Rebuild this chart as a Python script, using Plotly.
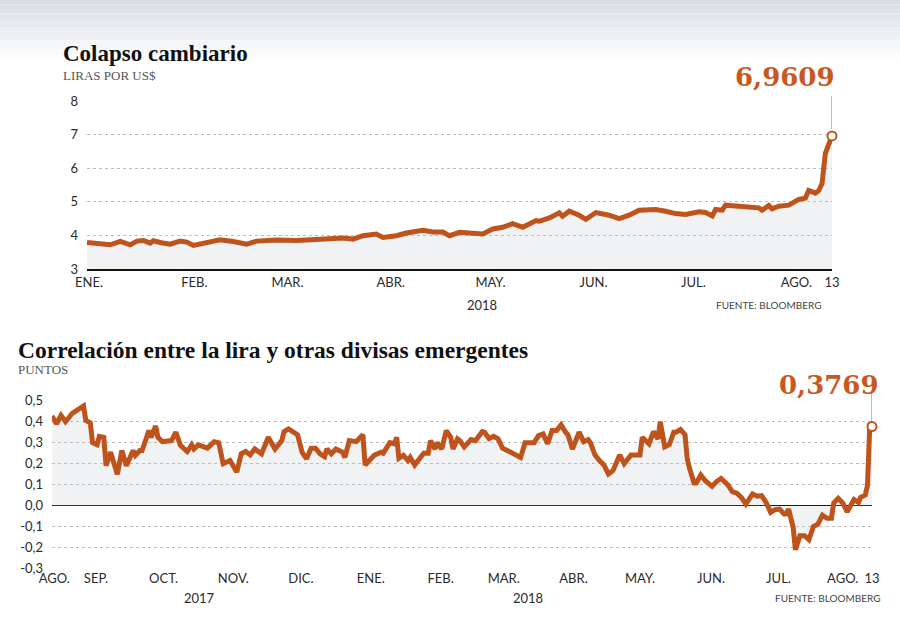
import pandas as pd
import plotly.graph_objects as go

W, H = 900, 623

# ---------------- data: lira per US$ (2018) ----------------
LIRA_START = "2018-01-01"
lira_days = [0, 3, 5, 7, 10, 13, 15, 17, 19, 20, 22, 25, 28, 30, 32, 36, 40, 44, 48, 51,
             57, 63, 68, 73, 77, 80, 83, 87, 89, 93, 96, 101, 104, 107, 109, 112, 115, 119,
             122, 125, 128, 131, 135, 136, 139, 142, 143, 145, 148, 150, 153, 156, 157, 160,
             163, 166, 168, 171, 174, 177, 180, 184, 186, 188, 189, 191, 192, 196, 199, 202,
             203, 205, 206, 208, 211, 214, 216, 217, 219, 220, 221, 222, 224]
lira_values = [3.79, 3.76, 3.71, 3.72, 3.82, 3.72, 3.83, 3.85, 3.77, 3.84, 3.79, 3.74, 3.83,
               3.80, 3.70, 3.79, 3.87, 3.82, 3.74, 3.83, 3.86, 3.85, 3.89, 3.90, 3.92, 3.89,
               3.99, 4.04, 3.94, 3.99, 4.07, 4.15, 4.10, 4.10, 3.99, 4.09, 4.07, 4.04, 4.19,
               4.24, 4.35, 4.24, 4.44, 4.42, 4.52, 4.67, 4.57, 4.72, 4.60, 4.48, 4.68, 4.63,
               4.60, 4.50, 4.60, 4.75, 4.75, 4.77, 4.72, 4.65, 4.62, 4.70, 4.68, 4.58, 4.77,
               4.75, 4.90, 4.87, 4.82, 4.82, 4.75, 4.89, 4.79, 4.87, 4.90, 5.07, 5.11, 5.34,
               5.26, 5.33, 5.54, 6.44, 6.9609]
lira_month_ticks = ["2018-01-01", "2018-02-01", "2018-03-01", "2018-04-01", "2018-05-01",
                    "2018-06-01", "2018-07-01", "2018-08-01", "2018-08-13"]
lira_month_labels = ["ENE.", "FEB.", "MAR.", "ABR.", "MAY.", "JUN.", "JUL.", "AGO.", "13"]
lira_yticks = [3, 4, 5, 6, 7, 8]
lira_last_label = "6,9609"

# ---------------- data: correlation (Aug 2017 - Aug 2018) ----------------
CORR_START = "2017-08-14"
corr_days = [0, 2, 4, 6, 9, 11, 14, 15, 17, 18, 20, 21, 23, 24, 26, 29, 31, 33, 34, 36, 37,
             39, 40, 43, 44, 46, 47, 49, 53, 55, 57, 60, 62, 63, 65, 69, 72, 74, 76, 79, 82,
             84, 86, 88, 90, 93, 96, 99, 102, 103, 105, 108, 109, 111, 113, 115, 117, 119,
             121, 122, 124, 126, 129, 130, 132, 135, 138, 139, 142, 143, 146, 147, 150, 152,
             153, 154, 156, 158, 159, 161, 165, 167, 168, 170, 171, 173, 175, 177, 178, 180,
             181, 183, 186, 188, 191, 192, 194, 196, 198, 200, 203, 206, 208, 210, 214, 216,
             218, 220, 222, 224, 226, 228, 229, 231, 234, 236, 238, 239, 241, 243, 245, 247,
             249, 252, 254, 257, 261, 262, 265, 267, 269, 270, 272, 274, 276, 277, 279, 281,
             282, 283, 285, 286, 288, 290, 293, 295, 297, 300, 302, 304, 306, 308, 311, 313,
             315, 317, 319, 321, 323, 325, 326, 327, 329, 330, 332, 334, 336, 338, 340, 342,
             344, 346, 347, 349, 351, 353, 355, 356, 358, 359, 361, 362, 363, 364]
corr_values = [0.427, 0.39, 0.43, 0.40, 0.44, 0.454, 0.475, 0.406, 0.395, 0.30, 0.29, 0.33,
               0.326, 0.19, 0.255, 0.15, 0.263, 0.19, 0.215, 0.263, 0.24, 0.263, 0.263, 0.358,
               0.326, 0.38, 0.326, 0.305, 0.31, 0.35, 0.287, 0.258, 0.29, 0.27, 0.29, 0.274,
               0.305, 0.30, 0.20, 0.215, 0.16, 0.247, 0.258, 0.242, 0.27, 0.247, 0.326, 0.27,
               0.31, 0.353, 0.366, 0.347, 0.338, 0.255, 0.223, 0.274, 0.274, 0.247, 0.234,
               0.27, 0.247, 0.27, 0.255, 0.23, 0.31, 0.305, 0.338, 0.194, 0.23, 0.24, 0.255,
               0.25, 0.30, 0.295, 0.326, 0.226, 0.24, 0.215, 0.23, 0.194, 0.25, 0.25, 0.31,
               0.27, 0.30, 0.27, 0.358, 0.326, 0.27, 0.318, 0.31, 0.28, 0.315, 0.31, 0.353,
               0.35, 0.32, 0.33, 0.318, 0.274, 0.258, 0.242, 0.23, 0.30, 0.30, 0.334, 0.342,
               0.295, 0.358, 0.358, 0.385, 0.35, 0.338, 0.27, 0.35, 0.305, 0.315, 0.30, 0.242,
               0.215, 0.194, 0.151, 0.167, 0.242, 0.20, 0.242, 0.242, 0.326, 0.295, 0.353,
               0.318, 0.40, 0.28, 0.29, 0.35, 0.35, 0.363, 0.338, 0.223, 0.178, 0.108, 0.108,
               0.146, 0.119, 0.092, 0.115, 0.13, 0.099, 0.067, 0.06, 0.04, 0.008, 0.056, 0.045,
               0.048, 0.016, -0.032, -0.019, -0.016, -0.04, -0.04, -0.016, -0.104, -0.21,
               -0.143, -0.143, -0.162, -0.099, -0.088, -0.045, -0.06, -0.06, 0.013, 0.035,
               0.013, -0.029, 0.019, 0.029, 0.016, 0.04, 0.051, 0.096, 0.38, 0.3769]
corr_month_ticks = ["2017-08-14", "2017-09-01", "2017-10-01", "2017-11-01", "2017-12-01",
                    "2018-01-01", "2018-02-01", "2018-03-01", "2018-04-01", "2018-05-01",
                    "2018-06-01", "2018-07-01", "2018-08-01", "2018-08-13"]
corr_month_labels = ["AGO.", "SEP.", "OCT.", "NOV.", "DIC.", "ENE.", "FEB.", "MAR.", "ABR.",
                     "MAY.", "JUN.", "JUL.", "AGO.", "13"]
corr_yticks = [-0.3, -0.2, -0.1, 0.0, 0.1, 0.2, 0.3, 0.4, 0.5]
corr_ytick_labels = ["-0,3", "-0,2", "-0,1", "0,0", "0,1", "0,2", "0,3", "0,4", "0,5"]
corr_last_label = "0,3769"

# ---------------- styling ----------------
ORANGE = "#bf531c"
LABEL_ORANGE = "#c9581f"
FILL = "rgba(190,196,206,0.22)"
GRID = "#bcbcbc"
SANS = "Lato, 'Noto Sans', sans-serif"
SERIF = "'Liberation Serif', 'DejaVu Serif', serif"
NUMSERIF = "'DejaVu Serif', serif"
# label nudges (days) relative to the month start, for visual centering only
LIRA_LABEL_NUDGE = [0.6, 1.3, 1.3, 1.3, 1.3, 1.3, 1.3, 1.3, 0]
CORR_LABEL_NUDGE = [1.0, 1.5, 1.5, 1.5, 1.5, 1.5, 1.5, 1.5, 1.5, 1.0, 1.5, 1.5, -1.0, 0]


def px(x):
    return x / W


def py(y):
    return 1 - y / H


lira_x = pd.Timestamp(LIRA_START) + pd.to_timedelta(lira_days, unit="D")
corr_x = pd.Timestamp(CORR_START) + pd.to_timedelta(corr_days, unit="D")


def nudged(ticks, nudges):
    return [pd.Timestamp(t) + pd.Timedelta(hours=24 * n) for t, n in zip(ticks, nudges)]


fig = go.Figure()

# top chart
fig.add_trace(go.Scatter(x=lira_x, y=lira_values, mode="lines", fill="tozeroy",
                         fillcolor=FILL, line=dict(color=ORANGE, width=5),
                         xaxis="x", yaxis="y", hoverinfo="skip", showlegend=False))
fig.add_trace(go.Scatter(x=[lira_x[-1]], y=[lira_values[-1]], mode="markers",
                         marker=dict(size=9, color="white", line=dict(color=ORANGE, width=2)),
                         cliponaxis=False, xaxis="x", yaxis="y", showlegend=False))

# bottom chart
fig.add_trace(go.Scatter(x=corr_x, y=corr_values, mode="lines", fill="tozeroy",
                         fillcolor=FILL, line=dict(color=ORANGE, width=5),
                         xaxis="x2", yaxis="y2", hoverinfo="skip", showlegend=False))
fig.add_trace(go.Scatter(x=[corr_x[-1]], y=[corr_values[-1]], mode="markers",
                         marker=dict(size=9, color="white", line=dict(color=ORANGE, width=2)),
                         cliponaxis=False, xaxis="x2", yaxis="y2", showlegend=False))

tickfont = dict(family=SANS, size=13, color="#2a2a2a")

fig.update_layout(
    width=W, height=H, autosize=False,
    margin=dict(l=0, r=0, t=0, b=0, autoexpand=False),
    paper_bgcolor="white", plot_bgcolor="rgba(0,0,0,0)",
    xaxis=dict(domain=[px(87), px(832)], type="date",
               range=[lira_x[0], lira_x[-1]],
               tickvals=nudged(lira_month_ticks, LIRA_LABEL_NUDGE), ticktext=lira_month_labels,
               showgrid=False, zeroline=False, showline=True, linecolor="#111",
               linewidth=2, ticks="", tickfont=tickfont, anchor="y", fixedrange=True,
               tickangle=0, automargin=False),
    yaxis=dict(domain=[py(269), py(101)], range=[3, 8], tickvals=lira_yticks,
               showgrid=True, gridcolor=GRID, griddash="dot", gridwidth=1,
               zeroline=False, showline=False, ticks="", tickfont=tickfont,
               ticklabelstandoff=8, anchor="x", fixedrange=True, automargin=False),
    xaxis2=dict(domain=[px(52), px(872)], type="date",
                range=[corr_x[0], corr_x[-1]],
                tickvals=nudged(corr_month_ticks, CORR_LABEL_NUDGE), ticktext=corr_month_labels,
                showgrid=False, zeroline=False, showline=False, ticks="",
                tickfont=tickfont, anchor="y2", fixedrange=True,
                tickangle=0, automargin=False),
    yaxis2=dict(domain=[py(568.7), py(400.7)], range=[-0.3, 0.5],
                tickvals=corr_yticks, ticktext=corr_ytick_labels,
                showgrid=True, gridcolor=GRID, griddash="dot", gridwidth=1,
                zeroline=True, zerolinecolor="#111", zerolinewidth=1.5,
                showline=False, ticks="", tickfont=tickfont, ticklabelstandoff=8,
                anchor="x2", fixedrange=True, automargin=False),
)

# top background gradient
shapes = []
steps = 14
top_c = (216, 221, 229)
for i in range(steps):
    t = i / (steps - 1)
    c = tuple(int(round(top_c[k] + (255 - top_c[k]) * t)) for k in range(3))
    shapes.append(dict(type="rect", xref="paper", yref="paper", x0=0, x1=1,
                       y0=py(i * 4.5 + 4.5), y1=py(i * 4.5), line=dict(width=0),
                       fillcolor="rgb(%d,%d,%d)" % c, layer="below"))

# leader lines to the last values
shapes.append(dict(type="line", xref="x", yref="paper", x0=lira_x[-1], x1=lira_x[-1],
                   y0=py(129), y1=py(96), line=dict(color="#777", width=1)))
shapes.append(dict(type="line", xref="x2", yref="paper", x0=corr_x[-1], x1=corr_x[-1],
                   y0=py(421), y1=py(393), line=dict(color="#777", width=1)))
fig.update_layout(shapes=shapes)

ann = []


def text(x, y, s, font, xanchor="left", yanchor="middle"):
    ann.append(dict(x=px(x), y=py(y), xref="paper", yref="paper", text=s, showarrow=False,
                    xanchor=xanchor, yanchor=yanchor, font=font))


text(61, 53, "<b>Colapso cambiario</b>", dict(family=SERIF, size=23, color="#111"))
text(61, 76, "LIRAS POR US$", dict(family=SERIF, size=13, color="#555"))
text(16, 350, "<b>Correlación entre la lira y otras divisas emergentes</b>",
     dict(family=SERIF, size=23.5, color="#111"))
text(16, 369, "PUNTOS", dict(family=SERIF, size=13, color="#555"))

text(837, 77, "<b>" + lira_last_label + "</b>", dict(family=NUMSERIF, size=26, color=LABEL_ORANGE),
     xanchor="right")
text(881, 385, "<b>" + corr_last_label + "</b>", dict(family=NUMSERIF, size=26, color=LABEL_ORANGE),
     xanchor="right")

text(482, 305, "2018", dict(family=SANS, size=13, color="#2a2a2a"), xanchor="center")
text(199, 598, "2017", dict(family=SANS, size=13, color="#2a2a2a"), xanchor="center")
text(528, 598, "2018", dict(family=SANS, size=13, color="#2a2a2a"), xanchor="center")
text(823, 305, "FUENTE: BLOOMBERG", dict(family=SANS, size=10, color="#444"), xanchor="right")
text(882, 598, "FUENTE: BLOOMBERG", dict(family=SANS, size=10, color="#444"), xanchor="right")

fig.update_layout(annotations=ann)

fig.write_html("out.html",
               config={"displayModeBar": False, "staticPlot": True},
               post_script="document.body.style.margin='0';"
                           "document.body.style.overflow='hidden';")
